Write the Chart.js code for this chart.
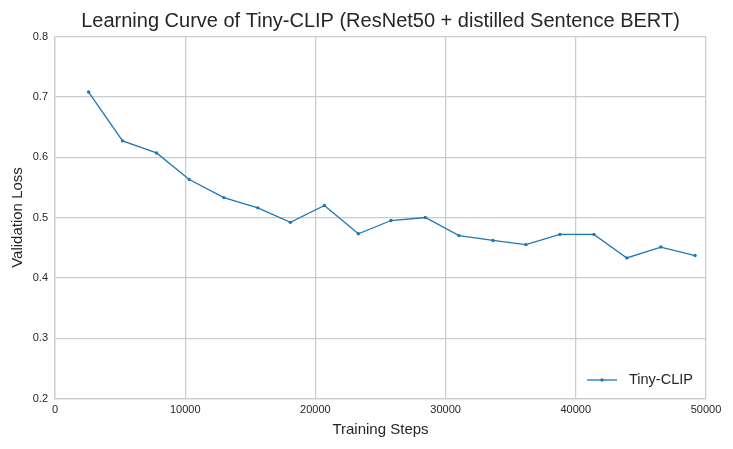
<!DOCTYPE html>
<html>
<head>
<meta charset="utf-8">
<script src="https://cdn.jsdelivr.net/npm/chart.js@4.4.0/dist/chart.umd.min.js"></script>
<style>
  html, body { margin: 0; padding: 0; background: #fff; }
  #chart { display: block; }
</style>
</head>
<body>
<canvas id="chart" width="733" height="449"></canvas>
<script>
// values
const trainingSteps = [2580, 5190, 7800, 10310, 12970, 15580, 18080, 20690, 23300, 25810,
                       28440, 31030, 33640, 36170, 38780, 41390, 43920, 46530, 49160];
const validationLoss = [0.708, 0.627, 0.607, 0.563, 0.533, 0.516, 0.492, 0.520, 0.473, 0.495,
                        0.500, 0.470, 0.462, 0.455, 0.472, 0.472, 0.433, 0.451, 0.437];
const seriesName = 'Tiny-CLIP';
const xTicks = [0, 10000, 20000, 30000, 40000, 50000];
const yTicks = [0.2, 0.3, 0.4, 0.5, 0.6, 0.7, 0.8];

const FONT = "'Liberation Sans', Arial, sans-serif";
const TEXT = '#262626';
const GRID = '#cccccc';
const BLUE = '#1f77b4';

// legend drawn inside the plot, lower right, no frame (like matplotlib whitegrid)
const innerLegend = {
  id: 'innerLegend',
  afterDraw(chart) {
    const {ctx, chartArea} = chart;
    const ds = chart.data.datasets[0];
    const y = chartArea.bottom - 18.5;
    const x0 = chartArea.right - 119;
    const x1 = chartArea.right - 89;
    ctx.save();
    ctx.strokeStyle = ds.borderColor;
    ctx.lineWidth = ds.borderWidth;
    ctx.beginPath();
    ctx.moveTo(x0, y);
    ctx.lineTo(x1, y);
    ctx.stroke();
    ctx.fillStyle = ds.borderColor;
    ctx.beginPath();
    ctx.arc((x0 + x1) / 2, y, ds.pointRadius, 0, Math.PI * 2);
    ctx.fill();
    ctx.fillStyle = TEXT;
    ctx.font = `14.5px ${FONT}`;
    ctx.textAlign = 'left';
    ctx.textBaseline = 'middle';
    ctx.fillText(ds.label, chartArea.right - 77, y);
    ctx.restore();
  }
};

const ctx = document.getElementById('chart').getContext('2d');

const chart = new Chart(ctx, {
  type: 'line',
  data: {
    datasets: [{
      label: seriesName,
      data: trainingSteps.map((s, i) => ({x: s, y: validationLoss[i]})),
      borderColor: BLUE,
      backgroundColor: BLUE,
      borderWidth: 1.3,
      pointRadius: 1.7,
      pointBorderWidth: 0,
      pointBackgroundColor: BLUE,
      tension: 0,
      fill: false
    }]
  },
  options: {
    responsive: false,
    animation: false,
    layout: { padding: { left: 0, right: 27, top: 0, bottom: 0 } },
    plugins: {
      legend: { display: false },
      tooltip: { enabled: false },
      title: {
        display: true,
        fullSize: false,
        text: 'Learning Curve of Tiny-CLIP (ResNet50 + distilled Sentence BERT)',
        color: TEXT,
        font: { family: FONT, size: 20, weight: 'normal', lineHeight: 1.2 },
        padding: { top: 9, bottom: 3.5 }
      }
    },
    scales: {
      x: {
        type: 'linear',
        min: 0,
        max: 50000,
        afterBuildTicks: (scale) => { scale.ticks = xTicks.map(v => ({value: v})); },
        afterFit: (scale) => { scale.height = 50.5; },
        grid: { color: GRID, lineWidth: 1.25, drawTicks: false },
        border: { color: GRID, width: 1.25 },
        ticks: {
          color: TEXT,
          padding: 5,
          maxRotation: 0,
          font: { family: FONT, size: 11 },
          callback: (v) => String(v)
        },
        title: {
          display: true,
          text: 'Training Steps',
          color: TEXT,
          font: { family: FONT, size: 15, lineHeight: 1.2 },
          padding: { top: 0, bottom: 10 }
        }
      },
      y: {
        type: 'linear',
        min: 0.2,
        max: 0.8,
        afterBuildTicks: (scale) => { scale.ticks = yTicks.map(v => ({value: v})); },
        afterFit: (scale) => { scale.width = 55; },
        grid: { color: GRID, lineWidth: 1.25, drawTicks: false },
        border: { color: GRID, width: 1.25 },
        ticks: {
          color: TEXT,
          padding: 7,
          font: { family: FONT, size: 11 },
          callback: (v) => Number(v).toFixed(1)
        },
        title: {
          display: true,
          text: 'Validation Loss',
          color: TEXT,
          font: { family: FONT, size: 15, lineHeight: 1.2 },
          padding: { top: 9, bottom: 0 }
        }
      }
    }
  },
  plugins: [innerLegend]
});
</script>
</body>
</html>
